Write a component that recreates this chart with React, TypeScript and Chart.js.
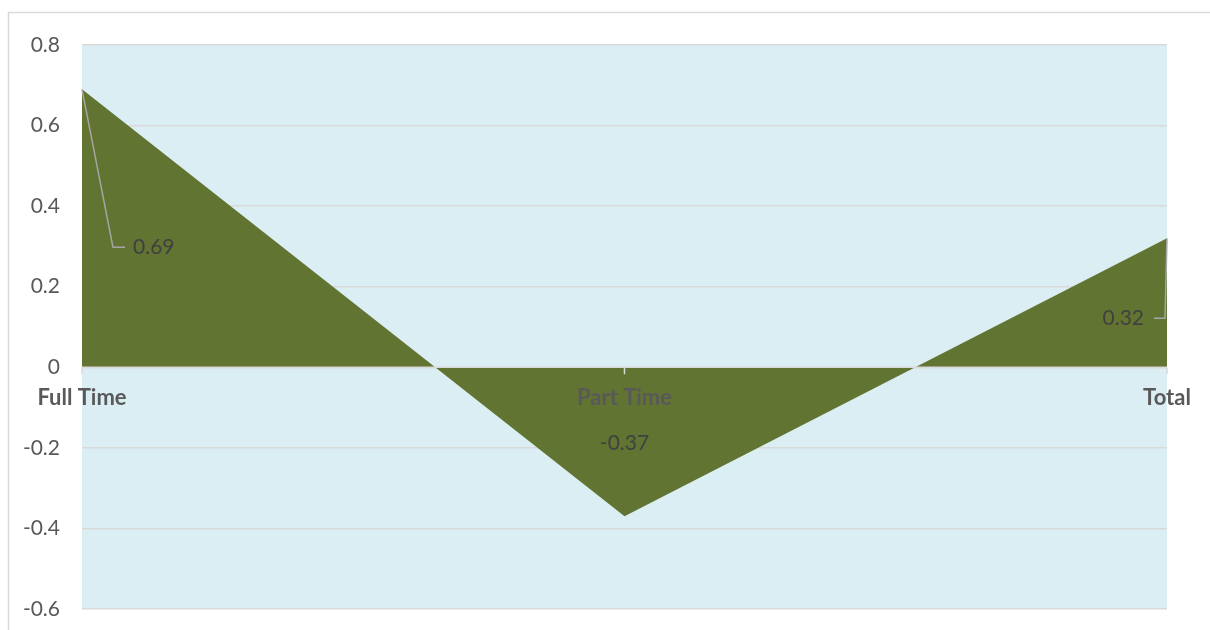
import React, { useEffect, useRef } from "react";
import { Chart, registerables } from "chart.js";

Chart.register(...registerables);

const categories = ["Full Time", "Part Time", "Total"];
const values = [0.69, -0.37, 0.32];
const valueLabels = ["0.69", "-0.37", "0.32"];
const yTicks = [-0.6, -0.4, -0.2, 0, 0.2, 0.4, 0.6, 0.8];

const FONT = "Lato, 'Open Sans', sans-serif";
const PLOT_BG = "#DAEEF3";
const AREA_FILL = "#627431";
const GRID = "#D9D9D9";

// label placement relative to the data point (styling only)
const labelPlacement = [
  { dx: 51, dy: 158, align: "left", leader: [[31, 158], [43, 158]] },
  { dx: 0, dy: -73, align: "center", leader: null },
  { dx: -23, dy: 80, align: "right", leader: [[-2, 80], [-13, 80]] },
] as const;

const decorPlugin = {
  id: "decor",
  beforeDraw(chart: any) {
    const { ctx, chartArea } = chart;
    ctx.save();
    ctx.fillStyle = "#ffffff";
    ctx.fillRect(0, 0, chart.width, chart.height);
    // outer border (left & top)
    ctx.strokeStyle = GRID;
    ctx.lineWidth = 1.5;
    ctx.beginPath();
    ctx.moveTo(8.5, chart.height);
    ctx.lineTo(8.5, 12.5);
    ctx.lineTo(chart.width, 12.5);
    ctx.stroke();
    // plot background
    ctx.fillStyle = PLOT_BG;
    ctx.fillRect(chartArea.left, chartArea.top, chartArea.right - chartArea.left, chartArea.bottom - chartArea.top);
    ctx.restore();
  },
  afterDatasetsDraw(chart: any) {
    const { ctx } = chart;
    const xScale = chart.scales.x;
    const yScale = chart.scales.y;
    const y0 = yScale.getPixelForValue(0);
    ctx.save();
    // zero axis line
    ctx.strokeStyle = GRID;
    ctx.lineWidth = 1.5;
    ctx.beginPath();
    ctx.moveTo(chart.chartArea.left, y0);
    ctx.lineTo(chart.chartArea.right, y0);
    ctx.stroke();
    // tick marks + category labels
    ctx.font = `bold 22px ${FONT}`;
    ctx.fillStyle = "#595959";
    ctx.textAlign = "center";
    ctx.textBaseline = "middle";
    categories.forEach((c, i) => {
      const x = xScale.getPixelForValue(i);
      ctx.beginPath();
      ctx.moveTo(x, y0);
      ctx.lineTo(x, y0 + 7);
      ctx.stroke();
      ctx.fillText(c, x, y0 + 31);
    });
    // data labels with leader lines
    const meta = chart.getDatasetMeta(0);
    ctx.font = `21px ${FONT}`;
    meta.data.forEach((pt: any, i: number) => {
      const p = labelPlacement[i];
      const px = pt.x;
      const py = pt.y;
      if (p.leader) {
        ctx.strokeStyle = "#A6A6A6";
        ctx.lineWidth = 1.5;
        ctx.beginPath();
        ctx.moveTo(px, py);
        p.leader.forEach(([lx, ly]) => ctx.lineTo(px + lx, py + ly));
        ctx.stroke();
      }
      ctx.fillStyle = "#404040";
      ctx.textAlign = p.align as CanvasTextAlign;
      ctx.textBaseline = "middle";
      ctx.fillText(valueLabels[i], px + p.dx, py + p.dy);
    });
    ctx.restore();
  },
};

export default function App() {
  const ref = useRef<HTMLCanvasElement>(null);
  useEffect(() => {
    if (!ref.current) return;
    const chart = new Chart(ref.current, {
      type: "line",
      data: {
        labels: categories,
        datasets: [
          {
            data: values,
            fill: "origin",
            backgroundColor: AREA_FILL,
            borderColor: AREA_FILL,
            borderWidth: 0,
            pointRadius: 0,
            tension: 0,
          },
        ],
      },
      options: {
        responsive: false,
        maintainAspectRatio: false,
        animation: false,
        layout: { padding: { left: 0, right: 43, top: 45, bottom: 21 } },
        plugins: { legend: { display: false }, tooltip: { enabled: false } },
        scales: {
          x: {
            display: false,
            offset: false,
          },
          y: {
            min: -0.6,
            max: 0.8,
            afterBuildTicks: (scale: any) => {
              scale.ticks = yTicks.map((v) => ({ value: v }));
            },
            afterFit: (scale: any) => {
              scale.width = 82;
            },
            grid: {
              color: GRID,
              lineWidth: 1.5,
              drawTicks: true,
              tickLength: 22,
              tickColor: "rgba(0,0,0,0)",
            },
            border: { display: false },
            ticks: {
              padding: 0,
              color: "#595959",
              font: { family: FONT, size: 21 },
              callback: (v: any) => String(Math.round(Number(v) * 10) / 10),
            },
          },
        },
      },
      plugins: [decorPlugin],
    });
    return () => chart.destroy();
  }, []);
  return (
    <div style={{ position: "fixed", left: 0, top: 0, width: 1210, height: 630 }}>
      <canvas ref={ref} width={1210} height={630} style={{ width: 1210, height: 630, display: "block" }} />
    </div>
  );
}
